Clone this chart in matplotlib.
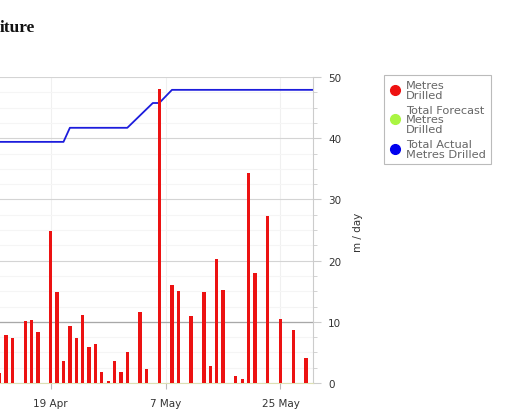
import numpy as np
import matplotlib.pyplot as plt
import matplotlib.dates as mdates
from matplotlib.lines import Line2D
from matplotlib.ticker import MultipleLocator, FixedLocator

# daily metres drilled (m / day)
bar_dates = ['2013-04-11', '2013-04-12', '2013-04-13', '2013-04-15', '2013-04-16',
             '2013-04-17', '2013-04-19', '2013-04-20', '2013-04-21', '2013-04-22',
             '2013-04-23', '2013-04-24', '2013-04-25', '2013-04-26', '2013-04-27',
             '2013-04-28', '2013-04-29', '2013-04-30', '2013-05-01', '2013-05-03',
             '2013-05-04', '2013-05-06', '2013-05-08', '2013-05-09', '2013-05-11',
             '2013-05-13', '2013-05-14', '2013-05-15', '2013-05-16', '2013-05-18',
             '2013-05-19', '2013-05-20', '2013-05-21', '2013-05-23', '2013-05-25',
             '2013-05-27', '2013-05-29']
metres_drilled = [1.6, 7.8, 7.4, 10.1, 10.35,
                  8.4, 24.8, 14.9, 3.6, 9.3,
                  7.4, 11.1, 5.9, 6.4, 1.8,
                  0.4, 3.6, 1.8, 5.0, 11.6,
                  2.3, 48.0, 16.0, 15.1, 10.95,
                  14.8, 2.7, 20.3, 15.2, 1.2,
                  0.65, 34.3, 18.0, 27.3, 10.5,
                  8.7, 4.1]

# total actual metres drilled (read on the m / day scale)
actual_dates = ['2013-04-01', '2013-04-21', '2013-04-22', '2013-05-01',
                '2013-05-05', '2013-05-06', '2013-05-08', '2013-05-31']
actual_total = [39.4, 39.4, 41.7, 41.7, 45.75, 45.75, 47.9, 47.9]

tick_dates = ['2013-04-19', '2013-05-07', '2013-05-25']

legend_labels = ['Metres\nDrilled', 'Total Forecast\nMetres\nDrilled',
                 'Total Actual\nMetres Drilled']
legend_colors = ['#ee1111', '#aaf542', '#0000ee']

W, H = 510, 414
fig = plt.figure(figsize=(W / 100, H / 100), dpi=100)
ax = fig.add_axes([0, 30 / H, 313 / W, 306 / H])

bx = mdates.date2num(np.array(bar_dates, dtype='datetime64[D]'))
lx = mdates.date2num(np.array(actual_dates, dtype='datetime64[D]'))
tx = mdates.date2num(np.array(tick_dates, dtype='datetime64[D]'))

ax.bar(bx, metres_drilled, width=0.52, color='#ec1212', zorder=3)
ax.plot(lx, actual_total, color='#1c1cdc', lw=1.3, zorder=2)

ax.set_xlim(tx[0] - 7.95, tx[0] + 41.1)
ax.set_ylim(0, 50)

ax.xaxis.set_major_locator(FixedLocator(tx))
ax.xaxis.set_major_formatter(mdates.DateFormatter('%-d %b'))
ax.yaxis.tick_right()
ax.yaxis.set_label_position('right')
ax.yaxis.set_major_locator(MultipleLocator(10))
ax.yaxis.set_minor_locator(MultipleLocator(2.5))

ax.tick_params(axis='x', length=4, color='#bbbbbb', labelsize=7.5,
               labelcolor='#333333', pad=6.5)
ax.tick_params(axis='y', which='major', length=6, color='#cccccc',
               labelsize=7.5, labelcolor='#333333', pad=5)
ax.tick_params(axis='y', which='minor', length=3, color='#cccccc')

ax.grid(which='major', axis='y', color='#d4d4d4', lw=0.8)
ax.grid(which='minor', axis='y', color='#f5f5f5', lw=0.8)
ax.grid(which='major', axis='x', color='#f0f0f0', lw=0.8)
ax.axhline(10, color='#a8a8a8', lw=0.9, zorder=1)
ax.set_axisbelow(True)

for s in ['left', 'top']:
    ax.spines[s].set_visible(False)
ax.spines['right'].set_color('#cccccc')
ax.spines['bottom'].set_color('#dcdfb4')

ax.set_ylabel('m / day', fontsize=7.5, color='#333333')
ax.yaxis.set_label_coords(358 / 313, (384 - 232) / 306)
ax.yaxis.label.set_va('center')

handles = [Line2D([], [], marker='o', ls='', markersize=7,
                  markerfacecolor=c, markeredgecolor=c) for c in legend_colors]
leg = fig.legend(handles, legend_labels, loc='upper left',
                 bbox_to_anchor=(384 / W, 1 - 76 / H), borderaxespad=0,
                 fancybox=False, edgecolor='#aaaaaa', fontsize=8.2,
                 labelcolor='#666666', handlelength=1, handletextpad=0.5,
                 labelspacing=0.45, borderpad=0.45)
leg.get_frame().set_linewidth(0.8)
for t in leg.get_texts():
    t.set_linespacing(0.95)

# title is cut by the left edge of the crop, only its end shows
fig.text(0, 1 - 32 / H, 'iture', ha='left', va='baseline',
         fontsize=12.5, fontweight='bold', family='Liberation Serif',
         color='#111111')

fig.savefig('out.png', dpi=100)
